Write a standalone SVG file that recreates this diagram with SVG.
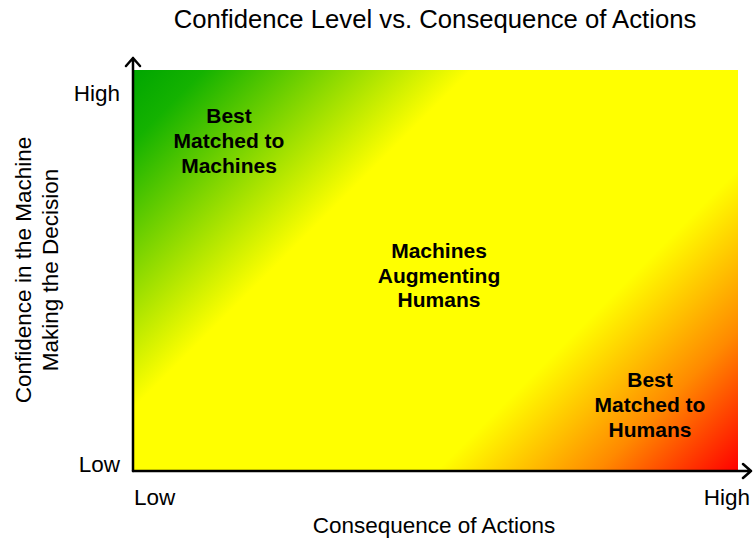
<svg xmlns="http://www.w3.org/2000/svg" width="754" height="541" viewBox="0 0 754 541">
<defs>
<linearGradient id="bg" gradientUnits="userSpaceOnUse" x1="134" y1="70" x2="636.5" y2="572.5">
<stop offset="0" stop-color="#00a600"/>
<stop offset="0.07" stop-color="#14b200"/>
<stop offset="0.336" stop-color="#ffff00"/>
<stop offset="0.70" stop-color="#ffff00"/>
<stop offset="0.86" stop-color="#ff8a00"/>
<stop offset="1" stop-color="#ff0000"/>
</linearGradient>
</defs>
<style>
text{font-family:"Liberation Sans",Arial,sans-serif;fill:#000}
.ax{font-size:22.5px}
.lb{font-size:21px;font-weight:bold;text-anchor:middle}
.axis{stroke:#000;stroke-width:2.5;fill:none;stroke-linecap:round;stroke-linejoin:round}
</style>
<rect x="134" y="70" width="604" height="401" fill="url(#bg)"/>
<text x="435" y="28" style="font-size:25.7px" text-anchor="middle">Confidence Level vs. Consequence of Actions</text>
<g id="axes" class="connectors">
<path class="axis" d="M133,471 L133,58 M126,66 L133,58 L140,66"/>
<path class="axis" d="M133,471 L751,471 M743,464 L751,471 L743,478"/>
</g>
<g id="ticks">
<text class="ax" x="120" y="101" text-anchor="end">High</text>
<text class="ax" x="120" y="472" text-anchor="end">Low</text>
<text class="ax" x="134" y="505">Low</text>
<text class="ax" x="750" y="505" text-anchor="end">High</text>
</g>
<text class="ax" x="434" y="533" text-anchor="middle">Consequence of Actions</text>
<g transform="translate(31,270) rotate(-90)">
<text class="ax" x="0" y="0" text-anchor="middle">Confidence in the Machine</text>
<text class="ax" x="0" y="27" text-anchor="middle">Making the Decision</text>
</g>
<g id="machines">
<text class="lb" x="229" y="123">Best</text>
<text class="lb" x="229" y="148">Matched to</text>
<text class="lb" x="229" y="173">Machines</text>
</g>
<g id="augmenting">
<text class="lb" x="439" y="258">Machines</text>
<text class="lb" x="439" y="283">Augmenting</text>
<text class="lb" x="439" y="307">Humans</text>
</g>
<g id="humans">
<text class="lb" x="650" y="387">Best</text>
<text class="lb" x="650" y="412">Matched to</text>
<text class="lb" x="650" y="437">Humans</text>
</g>
</svg>
